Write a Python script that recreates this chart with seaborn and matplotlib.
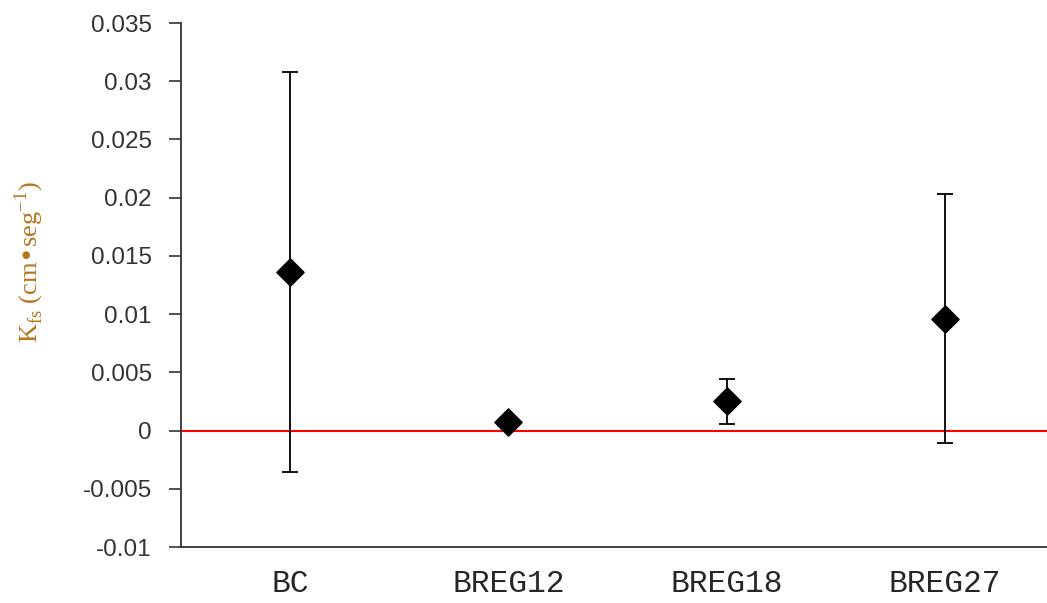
import matplotlib.pyplot as plt
import matplotlib.ticker as mticker
import pandas as pd
import seaborn as sns

# values
sites = ["BC", "BREG12", "BREG18", "BREG27"]
kfs_mean = [0.0136, 0.00077, 0.0025, 0.0096]
kfs_err = [0.0172, 0.0002, 0.0019, 0.0107]

df = pd.DataFrame({"site": sites, "kfs": kfs_mean, "err": kfs_err})

sns.set_style("white")
fig = plt.figure(figsize=(10.47, 6.03), dpi=100)
ax = fig.add_axes([181 / 1047, 1 - 547 / 603, 873 / 1047, 524 / 603])

# zero reference line
ax.axhline(0, color="#ff0000", lw=1.5, zorder=1)

ax.errorbar(df["site"], df["kfs"], yerr=df["err"], fmt="none",
            ecolor="black", elinewidth=1.3, capsize=5.5, capthick=1.3, zorder=2)
sns.scatterplot(data=df, x="site", y="kfs", marker="D", s=190,
                color="black", edgecolor="black", ax=ax, zorder=3, legend=False)

ax.set_xlim(-0.5, 3.5)
ax.set_ylim(-0.01, 0.035)
ax.yaxis.set_major_locator(mticker.MultipleLocator(0.005))
ax.yaxis.set_major_formatter(mticker.FuncFormatter(lambda v, p: f"{v:g}" if abs(v) > 1e-12 else "0"))

ax.xaxis.set_minor_locator(mticker.FixedLocator([0.5, 1.5, 2.5]))
ax.tick_params(axis="x", which="major", length=0, pad=16)
ax.tick_params(axis="x", which="minor", length=7, width=1.2, color="#333333", direction="out")
ax.tick_params(axis="y", length=9, width=1.2, color="#333333", direction="out", pad=12,
               left=True)
for lab in ax.get_xticklabels():
    lab.set_fontfamily("Liberation Mono")
    lab.set_fontsize(22.5)
for lab in ax.get_yticklabels():
    lab.set_fontfamily("Liberation Sans")
    lab.set_fontsize(17.5)
    lab.set_color("#333333")

sns.despine(ax=ax)
for side in ["left", "bottom"]:
    ax.spines[side].set_color("#333333")
    ax.spines[side].set_linewidth(1.3)

ax.set_xlabel("")
ax.set_ylabel(r"K$_{\mathregular{fs}}$ (cm•seg$^{\mathregular{-1}}$)", fontfamily="Liberation Serif",
              fontsize=19, color="#b8741a")
ax.yaxis.set_label_coords((46 - 181) / 873, (547 - 262) / 524)

fig.savefig("out.png", dpi=100)
